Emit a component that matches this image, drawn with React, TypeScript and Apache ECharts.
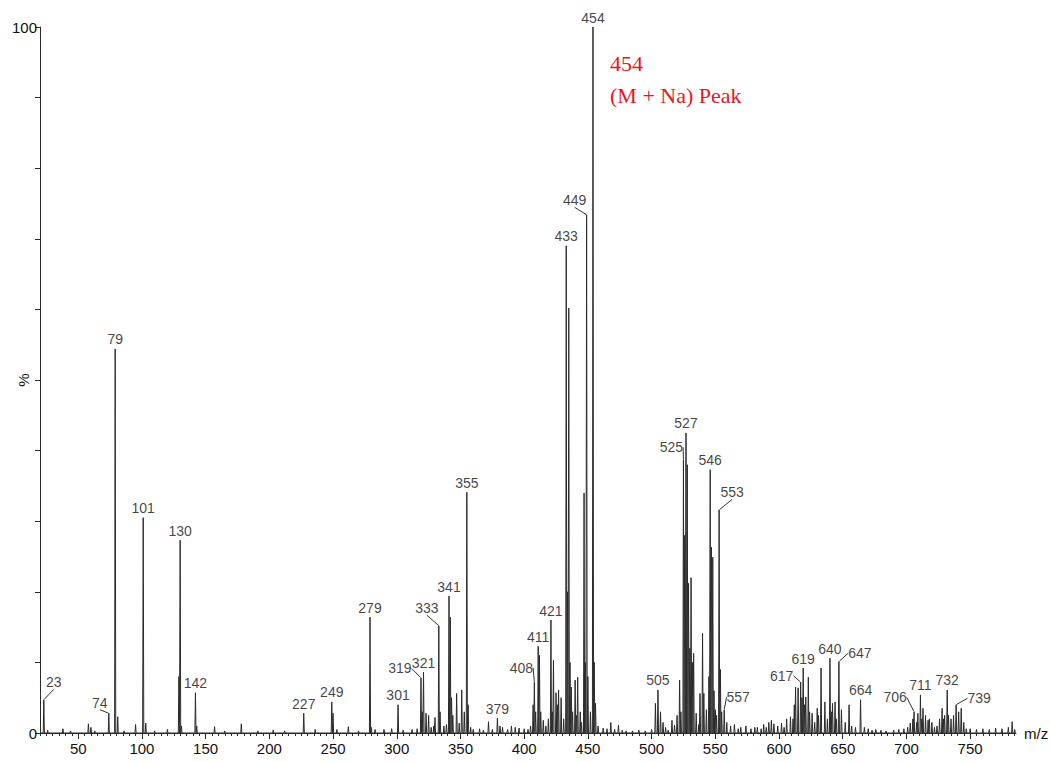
import React, { useEffect, useRef } from 'react';
import * as echarts from 'echarts';

// Peak list (m/z, relative intensity %)
const peakMz = [
  23, 26, 38, 44, 58, 60, 63, 74, 79, 81, 86, 95, 101, 103, 110, 120, 129, 130, 131, 142, 143,
  157, 165, 178, 191, 203, 212, 227, 236, 249, 250, 253, 262, 270, 279, 280, 283, 290, 296,
  301, 305, 312, 316, 319, 320, 321, 323, 325, 327, 329, 330, 333, 334, 337, 339, 341, 342,
  343, 344, 347, 349, 351, 353, 355, 356, 358, 360, 365, 368, 372, 375, 379, 381, 383, 387,
  390, 393, 396, 400, 403, 405, 407, 408, 409, 411, 412, 413, 415, 417, 419, 421, 422, 423,
  425, 426, 427, 429, 431, 433, 434, 435, 436, 437, 438, 440, 441, 442, 444, 445, 447, 448,
  449, 450, 452, 454, 455, 456, 458, 462, 465, 468, 471, 474, 477, 480, 485, 490, 495, 500,
  503, 505, 507, 509, 511, 513, 516, 518, 520, 522, 523, 525, 526, 527, 528, 529, 530, 531,
  532, 533, 535, 537, 538, 540, 541, 543, 545, 546, 547, 548, 549, 550, 551, 553, 554, 555,
  557, 559, 562, 565, 568, 570, 574, 578, 581, 583, 586, 588, 590, 592, 594, 596, 599, 602,
  604, 606, 609, 611, 612, 613, 615, 617, 618, 619, 620, 621, 623, 624, 626, 628, 630, 631,
  633, 636, 638, 640, 641, 642, 644, 645, 647, 649, 652, 655, 657, 660, 664, 667, 670, 673,
  676, 680, 684, 690, 694, 698, 701, 703, 705, 706, 708, 709, 711, 712, 713, 715, 717, 718,
  720, 722, 724, 726, 728, 729, 730, 732, 733, 735, 737, 739, 741, 743, 745, 747, 750, 755,
  760, 765, 770, 775, 780, 783, 785,
];
const peakIntensity = [
  4.7, 0.4, 0.6, 0.3, 1.3, 0.8, 0.3, 2.8, 54.4, 2.3, 0.3, 1.2, 30.5, 1.4, 0.3, 0.5, 8.0, 27.3, 1.0, 5.7, 1.0,
  0.9, 0.3, 1.3, 0.3, 0.4, 0.3, 2.8, 0.5, 4.4, 2.8, 0.5, 0.9, 0.3, 16.4, 0.8, 0.5, 0.5, 0.6,
  4.0, 0.4, 0.5, 0.6, 7.8, 3.0, 8.6, 2.8, 2.5, 0.8, 1.0, 2.2, 15.2, 3.0, 1.0, 1.2, 19.4, 16.4,
  5.0, 2.5, 5.6, 1.4, 6.1, 3.0, 34.1, 4.0, 0.8, 0.5, 0.6, 0.4, 1.6, 0.5, 2.1, 1.0, 0.8, 0.5,
  1.0, 0.8, 0.7, 0.6, 0.5, 1.0, 4.0, 7.2, 3.0, 12.3, 11.0, 3.0, 1.8, 1.0, 2.0, 16.0, 3.0, 10.3,
  5.7, 4.0, 6.1, 5.0, 2.0, 69.0, 20.0, 60.2, 10.0, 6.5, 3.0, 7.5, 2.5, 7.9, 3.0, 1.5, 34.0, 10.0,
  73.4, 8.0, 3.0, 100, 10.0, 4.2, 1.0, 0.7, 0.6, 1.5, 0.5, 1.1, 0.4, 0.3, 0.3, 0.4, 0.3, 0.5,
  4.2, 6.1, 3.0, 1.5, 0.8, 0.4, 1.8, 1.1, 2.5, 7.5, 3.0, 38.7, 28.0, 42.5, 38.0, 21.2, 12.0, 22.0,
  10.0, 11.3, 2.8, 1.2, 5.6, 14.1, 5.6, 3.3, 8.0, 37.3, 26.3, 24.9, 6.0, 3.3, 2.5, 31.6, 9.0, 3.0,
  3.3, 1.5, 1.0, 1.2, 0.6, 0.8, 1.0, 0.6, 0.8, 0.8, 0.6, 1.2, 0.8, 1.5, 1.8, 1.3, 1.0, 1.4,
  0.8, 2.0, 2.3, 2.0, 4.0, 6.5, 6.4, 7.2, 5.0, 9.2, 4.0, 5.1, 7.9, 3.0, 2.8, 1.5, 3.5, 2.5,
  9.2, 4.4, 2.0, 10.6, 3.0, 4.2, 4.4, 2.0, 10.1, 3.3, 1.5, 4.0, 1.0, 0.8, 4.7, 0.8, 0.6, 0.4,
  0.5, 0.4, 0.3, 0.4, 0.5, 0.6, 0.8, 1.4, 2.0, 3.0, 1.5, 2.8, 5.4, 2.0, 3.5, 2.5, 1.8, 2.0,
  1.5, 0.8, 1.0, 2.0, 3.5, 2.0, 2.5, 6.1, 2.5, 2.0, 2.5, 4.0, 3.0, 3.5, 1.5, 0.6, 0.6, 0.5,
  0.6, 0.5, 0.7, 0.6, 0.8, 1.6, 0.5,
];

// Peaks that carry an m/z label
const labeledMz = [
  23, 74, 79, 101, 130, 142, 227, 249, 279, 301, 319, 321, 333, 341, 355, 379, 408, 411, 421,
  433, 449, 454, 505, 525, 527, 546, 553, 557, 617, 619, 640, 647, 664, 706, 711, 732, 739,
];

const xTickLabels = [50, 100, 150, 200, 250, 300, 350, 400, 450, 500, 550, 600, 650, 700, 750];
const xMinorTicks = Array.from({ length: 154 }, (_, i) => 20 + i * 5);
const yTickLabels = [0, 100];
const annotationLines = ['454', '(M + Na) Peak'];

// label displacement (px) for labels attached with a leader line
const labelShift: Record<number, [number, number]> = {
  23: [10, -8], 74: [-9, -1], 319: [-21, 0], 333: [-12, -8], 408: [-13, -5], 449: [-12, -5],
  525: [-12, -3], 553: [13, -8], 557: [14, -3], 617: [-19, 3], 647: [21, 1], 706: [-19, -5],
  739: [23, 3],
};

const X_MIN = 20;
const X_MAX = 786;
const HALF_WIDTH = 0.45;

export default function App() {
  const ref = useRef<HTMLDivElement>(null);

  useEffect(() => {
    if (!ref.current) return;
    const chart = echarts.init(ref.current, null, { renderer: 'svg' });

    const order = peakMz.map((_, i) => i).sort((a, b) => peakMz[a] - peakMz[b]);
    const trace: number[][] = [[X_MIN, 0]];
    order.forEach((i) => {
      const m = peakMz[i];
      trace.push([m - HALF_WIDTH, 0], [m, peakIntensity[i]], [m + HALF_WIDTH, 0]);
    });
    trace.push([X_MAX, 0]);

    const heightOf = (m: number) => peakIntensity[peakMz.indexOf(m)];
    const labelData = labeledMz.map((m) => ({
      value: [m, heightOf(m)],
      labelLine: { show: !!labelShift[m] },
    }));

    const font = "'Liberation Sans', Arial, sans-serif";

    chart.setOption({
      animation: false,
      backgroundColor: '#ffffff',
      grid: {
        left: 40,
        right: 34,
        top: 27,
        bottom: 29,
        containLabel: false,
        outerBoundsMode: 'none',
      },
      xAxis: [
        {
          type: 'value',
          min: X_MIN,
          max: X_MAX,
          name: 'm/z',
          nameLocation: 'end',
          nameGap: 8,
          nameMoveOverlap: false,
          nameTextStyle: { fontFamily: font, fontSize: 15, color: '#111', padding: [14, 0, 0, 0] },
          axisLine: { show: true, lineStyle: { color: '#2a2a2a', width: 1 } },
          axisTick: { show: true, length: 3, customValues: xMinorTicks, lineStyle: { color: '#2a2a2a' } },
          axisLabel: {
            customValues: xTickLabels,
            fontFamily: font,
            fontSize: 15,
            color: '#111',
            margin: 8,
          },
          splitLine: { show: false },
        },
        {
          type: 'value',
          min: X_MIN,
          max: X_MAX,
          position: 'bottom',
          axisLine: { show: false },
          axisTick: { show: true, length: 6, customValues: xTickLabels, lineStyle: { color: '#2a2a2a' } },
          axisLabel: { show: false },
          splitLine: { show: false },
        },
      ],
      yAxis: {
        type: 'value',
        min: 0,
        max: 100,
        interval: 10,
        name: '%',
        nameLocation: 'middle',
        nameGap: 9,
        nameRotate: 90,
        nameMoveOverlap: false,
        nameTextStyle: { fontFamily: font, fontSize: 15, color: '#111' },
        axisLine: { show: true, lineStyle: { color: '#2a2a2a', width: 1 } },
        axisTick: { show: true, length: 5, lineStyle: { color: '#2a2a2a' } },
        axisLabel: {
          fontFamily: font,
          fontSize: 15,
          color: '#111',
          margin: 3,
          formatter: (v: number) => (yTickLabels.includes(v) ? String(v) : ''),
        },
        splitLine: { show: false },
      },
      series: [
        {
          type: 'line',
          data: trace,
          symbol: 'none',
          lineStyle: { color: '#2b2b2b', width: 1 },
          z: 2,
        },
        {
          type: 'scatter',
          data: labelData,
          symbolSize: 1,
          itemStyle: { color: 'rgba(0,0,0,0)' },
          label: {
            show: true,
            position: 'top',
            distance: 2,
            formatter: (p: any) => String(p.value[0]),
            fontFamily: font,
            fontSize: 14,
            color: '#111',
          },
          labelLine: { show: false, lineStyle: { color: '#333', width: 1 } },
          labelLayout: (params: any) => {
            const s = labelShift[labeledMz[params.dataIndex]];
            return s ? { dx: s[0], dy: s[1] } : {};
          },
          z: 3,
        },
      ],
      graphic: [
        {
          type: 'text',
          left: 610,
          top: 52,
          style: {
            text: annotationLines[0],
            fill: '#e8161c',
            font: "22px 'Liberation Serif', 'Times New Roman', serif",
          },
        },
        {
          type: 'text',
          left: 610,
          top: 84,
          style: {
            text: annotationLines[1],
            fill: '#e8161c',
            font: "22px 'Liberation Serif', 'Times New Roman', serif",
          },
        },
      ],
    });

    return () => chart.dispose();
  }, []);

  return (
    <div
      ref={ref}
      style={{ position: 'fixed', left: 0, top: 0, width: 1050, height: 762, background: '#fff' }}
    />
  );
}
